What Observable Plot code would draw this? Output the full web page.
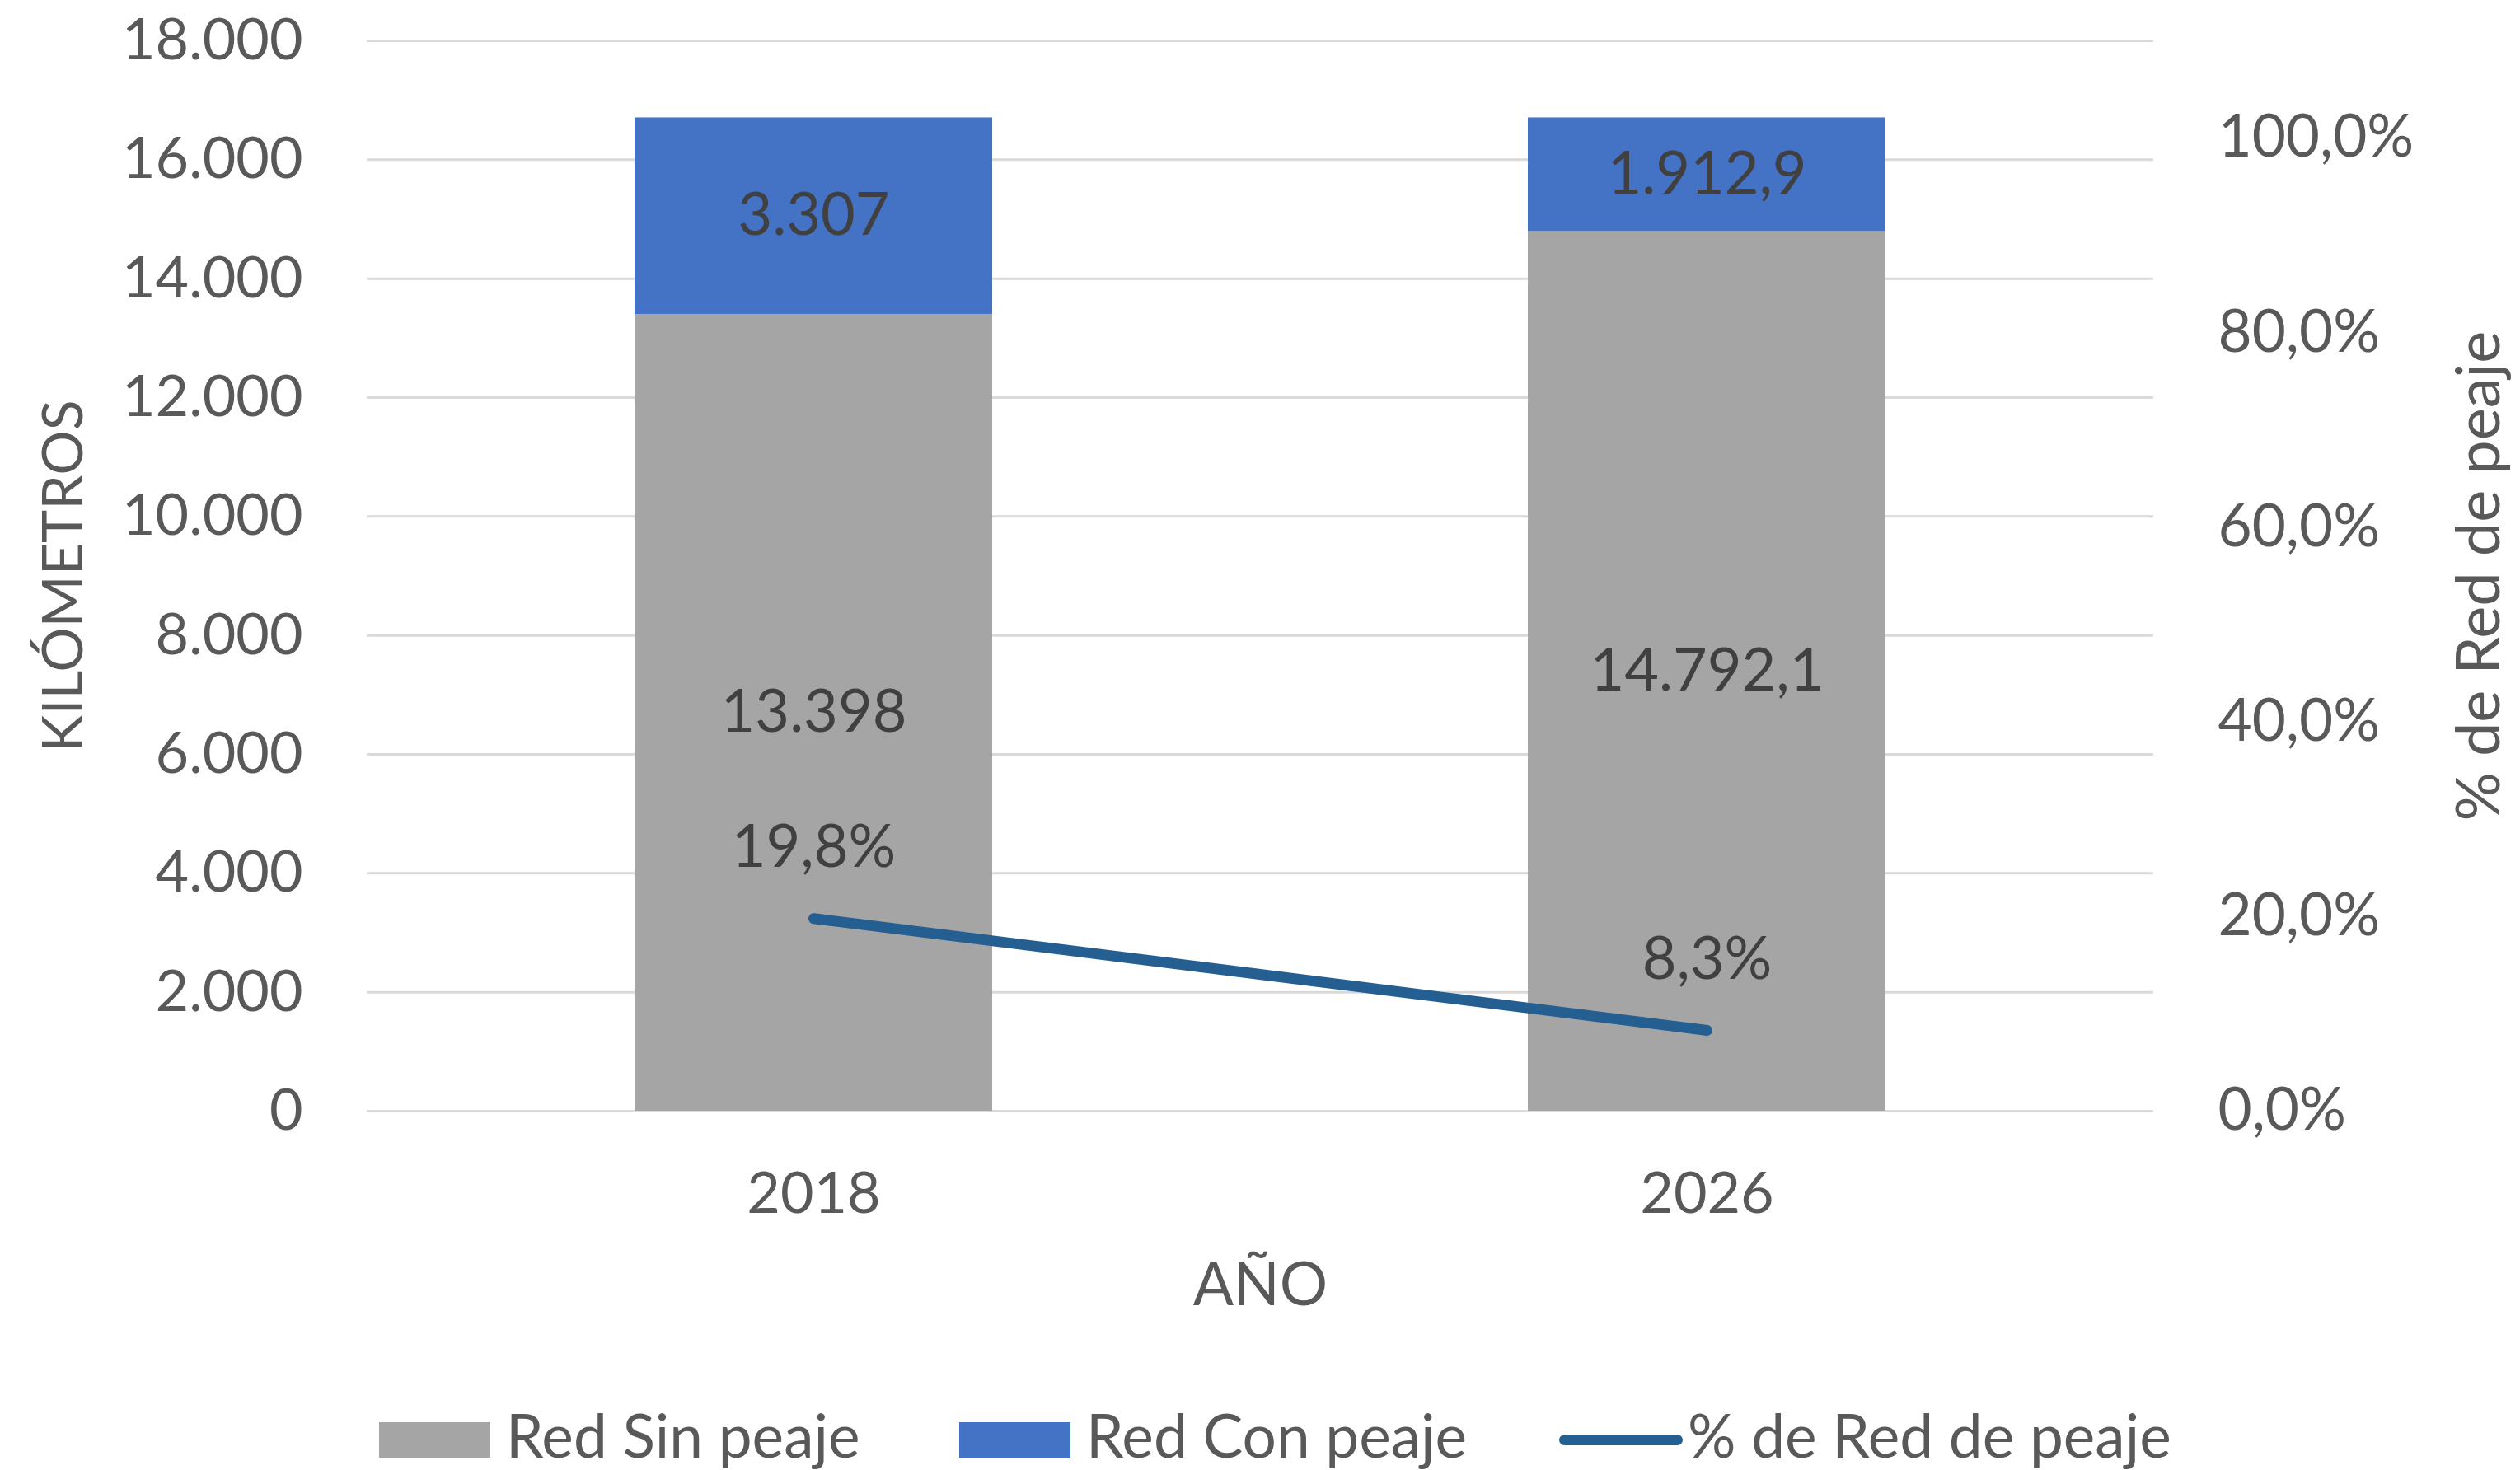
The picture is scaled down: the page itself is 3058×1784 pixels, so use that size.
<!DOCTYPE html>
<html>
<head>
<meta charset="utf-8">
<script src="https://cdn.jsdelivr.net/npm/d3@7"></script>
<script src="https://cdn.jsdelivr.net/npm/@observablehq/plot@0.6"></script>
<style>
  html, body { margin: 0; padding: 0; background: #fff; overflow: hidden; }
  #wrap { position: relative; width: 3058px; height: 1784px; font-family: Lato, "Open Sans", sans-serif; }
  #legend { position: absolute; top: 1726px; left: 0; width: 3058px; height: 43px; color: #595959; font-size: 73px; font-family: Lato, sans-serif; }
  .item { position: absolute; top: 0; height: 43px; display: flex; align-items: center; white-space: nowrap; }
  .item span { line-height: 1; position: relative; top: -6px; }
  .sw { width: 135px; height: 43px; margin-right: 19px; flex: none; }
  .ln { width: 150px; height: 13px; border-radius: 7px; margin-right: 6px; flex: none; }
</style>
</head>
<body>
<div id="wrap">
  <div id="chart"></div>
  <div id="legend"></div>
</div>
<script>
// ---- data ----
const years = ["2018", "2026"];
const sinPeaje = [13398, 14792.1];
const conPeaje = [3307, 1912.9];
const pctPeaje = [0.198, 0.083];
const seriesNames = ["Red Sin peaje", "Red Con peaje", "% de Red de peaje"];
const seriesColors = ["#A5A5A5", "#4472C4", "#255E91"];
const kmTicks = [0, 2000, 4000, 6000, 8000, 10000, 12000, 14000, 16000, 18000];
const pctTicks = [0, 0.2, 0.4, 0.6, 0.8, 1.0];
const kmMax = 18000;
const pctMax = 1.1;

// ---- formats (es) ----
const es = d3.formatLocale({decimal: ",", thousands: ".", grouping: [3], currency: ["", " €"]});
const kmFmt = es.format(",~f");
const pctFmt = es.format(".1%");
const toKm = p => p * kmMax / pctMax;

const stackRows = [];
years.forEach((y, i) => {
  stackRows.push({year: y, series: seriesNames[0], value: sinPeaje[i]});
  stackRows.push({year: y, series: seriesNames[1], value: conPeaje[i]});
});
const lineRows = years.map((y, i) => ({year: y, pct: pctPeaje[i]}));

const TICK_FS = 70, LABEL_FS = 72;
const W = 3058, H = 1640;

const chart = Plot.plot({
  width: W,
  height: H,
  marginLeft: 445,
  marginRight: 445,
  marginTop: 49,
  marginBottom: H - 1348,
  style: {color: "#595959", fontFamily: "Lato, 'Open Sans', sans-serif", fontSize: TICK_FS + "px", background: "#fff"},
  x: {domain: years, paddingInner: 0.6, paddingOuter: 0.3, axis: null},
  y: {domain: [0, kmMax], axis: null},
  color: {domain: seriesNames.slice(0, 2), range: seriesColors.slice(0, 2)},
  marks: [
    Plot.ruleY(kmTicks, {stroke: "#D9D9D9", strokeWidth: 3}),
    Plot.barY(stackRows, {x: "year", y: "value", fill: "series", order: null}),
    Plot.text(stackRows, Plot.stackY({x: "year", y: "value", z: "series", order: null,
      text: d => kmFmt(d.value), fill: "#404040", fontSize: LABEL_FS, lineAnchor: "middle"})),
    Plot.line(lineRows, {x: "year", y: d => toKm(d.pct), stroke: seriesColors[2], strokeWidth: 13, strokeLinecap: "round"}),
    Plot.text(lineRows, {x: "year", y: d => toKm(d.pct), text: d => pctFmt(d.pct), dy: -86,
      fill: "#404040", fontSize: LABEL_FS, lineAnchor: "middle"}),
    Plot.axisY(kmTicks, {anchor: "left", tickSize: 0, tickPadding: 78, tickFormat: kmFmt, fontSize: TICK_FS, label: null}),
    Plot.axisY(pctTicks.map(toKm), {anchor: "right", tickSize: 0, tickPadding: 78,
      tickFormat: d => pctFmt(d * pctMax / kmMax), fontSize: 71, label: null}),
    Plot.axisX(years, {anchor: "bottom", tickSize: 0, tickPadding: 74, fontSize: TICK_FS, label: null}),
    Plot.text(["KILÓMETROS"], {frameAnchor: "left", dx: -367, rotate: -90, textAnchor: "middle", text: d => d, fontSize: 68, fill: "#595959", lineAnchor: "middle"}),
    Plot.text(["% de Red de peaje"], {frameAnchor: "right", dx: 396, rotate: -90, textAnchor: "middle", text: d => d, fontSize: 74, fill: "#595959", lineAnchor: "middle"}),
    Plot.text(["AÑO"], {frameAnchor: "bottom", dy: 212, text: d => d, fontSize: 73, fill: "#595959", lineAnchor: "middle"})
  ]
});
document.getElementById("chart").appendChild(chart);

// ---- legend ----
const legend = document.getElementById("legend");
const itemLeft = [460, 1164, 1892];
seriesNames.forEach((name, i) => {
  const item = document.createElement("div");
  item.className = "item";
  item.style.left = itemLeft[i] + "px";
  const key = document.createElement("div");
  key.className = i < 2 ? "sw" : "ln";
  key.style.background = seriesColors[i];
  const label = document.createElement("span");
  label.textContent = name;
  item.appendChild(key);
  item.appendChild(label);
  legend.appendChild(item);
});
</script>
</body>
</html>
